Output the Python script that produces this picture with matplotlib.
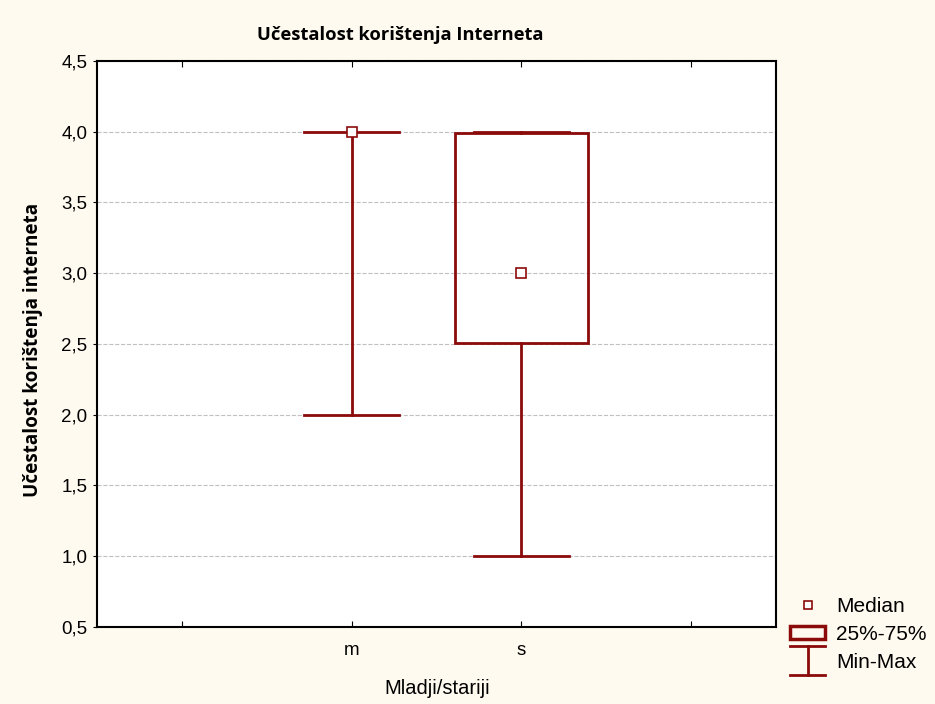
import numpy as np
import matplotlib.pyplot as plt
from matplotlib.patches import Rectangle
from matplotlib.lines import Line2D
from matplotlib.legend_handler import HandlerBase

groups = ["m", "s"]
mins = [2.0, 1.0]
q1s = [4.0, 2.51]
medians = [4.0, 3.0]
q3s = [4.0, 3.99]
maxs = [4.0, 4.0]

dark_red = "#8B0A0A"
bg = "#FFFAF0"


class IBeam:
    pass


class IBeamHandler(HandlerBase):
    # whisker symbol: cap, stem, cap
    def create_artists(self, legend, orig, xd, yd, width, height, fontsize, trans):
        x0, x1 = -xd, -xd + width
        cx = (x0 + x1) / 2
        lo, hi = -yd - 5.5, -yd + height + 5.5
        kw = dict(color=dark_red, lw=2, transform=trans)
        return [Line2D([x0, x1], [lo, lo], **kw),
                Line2D([x0, x1], [hi, hi], **kw),
                Line2D([cx, cx], [lo, hi], **kw)]


fig = plt.figure(figsize=(9.35, 7.04), dpi=100, facecolor=bg)
ax = fig.add_axes([0.1037, 0.1094, 0.7263, 0.804])
ax.set_facecolor("white")

pos = np.arange(len(groups)) + 1.5
box_w = 0.78
cap_w = 0.56

for x, lo, a, med, b, hi in zip(pos, mins, q1s, medians, q3s, maxs):
    ax.plot([x, x], [lo, a], color=dark_red, lw=2, zorder=3)
    ax.plot([x, x], [b, hi], color=dark_red, lw=2, zorder=3)
    ax.plot([x - cap_w / 2, x + cap_w / 2], [lo, lo], color=dark_red, lw=2, zorder=3)
    ax.plot([x - cap_w / 2, x + cap_w / 2], [hi, hi], color=dark_red, lw=2, zorder=3)
    if b > a:
        ax.add_patch(Rectangle((x - box_w / 2, a), box_w, b - a, fill=False,
                               edgecolor=dark_red, lw=2, zorder=4))
    ax.plot([x], [med], marker="s", ms=7, mfc="white", mec=dark_red, mew=1.2,
            zorder=5, linestyle="none")

ax.set_xlim(0, 4)
ax.set_ylim(0.5, 4.5)
ax.set_xticks([0.5, 1.5, 2.5, 3.5])
ax.set_xticklabels(["", "m", "s", ""], fontsize=13.5, family="Liberation Sans")
yt = np.arange(0.5, 4.51, 0.5)
ax.set_yticks(yt)
ax.set_yticklabels([f"{v:.1f}".replace(".", ",") for v in yt], fontsize=13.5,
                   family="Liberation Sans")
ax.tick_params(axis="x", direction="in", top=True, length=4, pad=11)
ax.tick_params(axis="y", direction="out", length=3, pad=4)
ax.yaxis.grid(True, linestyle="--", color="#c0c0c0", lw=0.8)
ax.set_axisbelow(True)
for s in ax.spines.values():
    s.set_linewidth(1.5)

fig.text(400 / 935, 1 - 35 / 704, "Učestalost korištenja Interneta", ha="center",
         va="center", fontsize=13.2, fontweight="bold", family="Open Sans")
fig.text(33 / 935, 1 - 350 / 704, "Učestalost korištenja interneta", ha="center",
         va="center", rotation=90, fontsize=13.6, fontweight="bold", family="Open Sans")
fig.text(437 / 935, 1 - 688 / 704, "Mladji/stariji", ha="center", va="center",
         fontsize=14.5, family="Liberation Sans")

handles = [
    Line2D([], [], marker="s", ms=6, mfc="white", mec=dark_red, mew=1.2, linestyle="none"),
    Rectangle((0, 0), 1, 1, fill=False, edgecolor=dark_red, lw=2.5),
    IBeam(),
]
leg = fig.legend(handles, ["Median", "25%-75%", "Min-Max"], loc="upper left",
                 bbox_to_anchor=(790 / 935, 1 - 597 / 704), frameon=False,
                 prop={"family": "Liberation Sans", "size": 15},
                 handlelength=1.7, handleheight=0.63, handletextpad=0.5,
                 labelspacing=0.42, borderpad=0, borderaxespad=0,
                 handler_map={IBeam: IBeamHandler()})

fig.savefig("out.png", dpi=100, facecolor=bg)
